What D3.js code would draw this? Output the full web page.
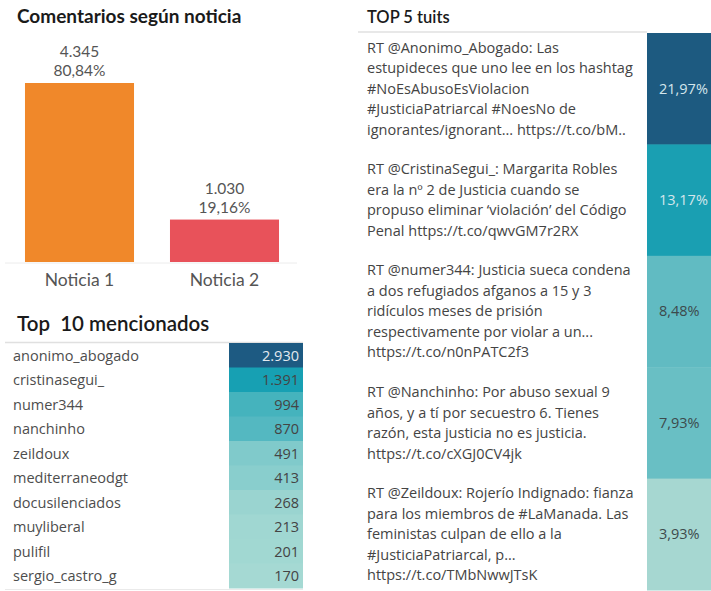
<!DOCTYPE html>
<html>
<head>
<meta charset="utf-8">
<script src="https://cdn.jsdelivr.net/npm/d3@7"></script>
<style>
  body { margin: 0; background: #fff; }
  text { font-family: "Open Sans", sans-serif; }
  .title { font-family: Lato, sans-serif; fill: #1a1a1a; }
</style>
</head>
<body>
<svg id="svg"></svg>
<script>
const noticias = ['Noticia 1', 'Noticia 2'];
const comentarios = [4345, 1030];

const mencionados = ['anonimo_abogado', 'cristinasegui_', 'numer344', 'nanchinho', 'zeildoux',
  'mediterraneodgt', 'docusilenciados', 'muyliberal', 'pulifil', 'sergio_castro_g'];
const menciones = [2930, 1391, 994, 870, 491, 413, 268, 213, 201, 170];

const tuits = [
  ['RT @Anonimo_Abogado: Las', 'estupideces que uno lee en los hashtag', '#NoEsAbusoEsViolacion',
    '#JusticiaPatriarcal #NoesNo de', 'ignorantes/ignorant... https://t.co/bM..'],
  ['RT @CristinaSegui_: Margarita Robles', 'era la nº 2 de Justicia cuando se',
    'propuso eliminar ‘violación’ del Código', 'Penal https://t.co/qwvGM7r2RX'],
  ['RT @numer344: Justicia sueca condena', 'a dos refugiados afganos a 15 y 3',
    'ridículos meses de prisión', 'respectivamente por violar a un...', 'https://t.co/n0nPATC2f3'],
  ['RT @Nanchinho: Por abuso sexual 9', 'años, y a tí por secuestro 6. Tienes',
    'razón, esta justicia no es justicia.', 'https://t.co/cXGJ0CV4jk'],
  ['RT @Zeildoux: Rojerío Indignado: fianza', 'para los miembros de #LaManada. Las',
    'feministas culpan de ello a la', '#JusticiaPatriarcal, p...', 'https://t.co/TMbNwwJTsK']
];
const tuitsPct = [21.97, 13.17, 8.48, 7.93, 3.93];

const width = 711;
const height = 591;

const es = d3.formatLocale({ decimal: ',', thousands: '.', grouping: [3], currency: ['', '€'] });
const fmtNum = es.format(',d');
const fmtPct = es.format('.2%');

const svg = d3.select('#svg').attr('width', width).attr('height', height);

// ---- Comentarios según noticia
svg.append('text').attr('class', 'title')
  .attr('x', 17).attr('y', 23)
  .style('font-size', '19px').style('font-weight', 700)
  .text('Comentarios según noticia');

const x = d3.scaleBand().domain(noticias).range([7, 297]).paddingInner(0.248).paddingOuter(0.124);
const y = d3.scaleLinear().domain([0, d3.max(comentarios)]).range([262, 83]);
const total = d3.sum(comentarios);
const barColors = ['#f0882a', '#e8525a'];

svg.append('line')
  .attr('x1', 5).attr('x2', 297).attr('y1', 263).attr('y2', 263)
  .attr('stroke', '#ececec');

const bars = svg.append('g').selectAll('g')
  .data(comentarios)
  .join('g');

bars.append('rect')
  .attr('x', (d, i) => x(noticias[i]))
  .attr('width', x.bandwidth())
  .attr('y', d => y(d))
  .attr('height', d => y(0) - y(d))
  .attr('fill', (d, i) => barColors[i]);

bars.append('text')
  .attr('x', (d, i) => x(noticias[i]) + x.bandwidth() / 2)
  .attr('y', d => y(d) - 26)
  .attr('text-anchor', 'middle')
  .style('font-family', 'Lato, sans-serif')
  .style('font-size', '15.5px').attr('fill', '#555')
  .text(d => fmtNum(d));

bars.append('text')
  .attr('x', (d, i) => x(noticias[i]) + x.bandwidth() / 2)
  .attr('y', d => y(d) - 7)
  .attr('text-anchor', 'middle')
  .style('font-family', 'Lato, sans-serif')
  .style('font-size', '15.5px').attr('fill', '#555')
  .text(d => fmtPct(d / total));

svg.append('g').selectAll('text')
  .data(noticias)
  .join('text')
  .attr('x', d => x(d) + x.bandwidth() / 2)
  .attr('y', 286)
  .attr('text-anchor', 'middle')
  .style('font-family', 'Lato, sans-serif')
  .style('font-size', '17.5px').attr('fill', '#555')
  .text(d => d);

// ---- Top 10 mencionados
svg.append('text').attr('class', 'title')
  .attr('x', 17).attr('y', 331)
  .attr('xml:space', 'preserve')
  .style('white-space', 'pre')
  .style('font-size', '20.5px').style('font-weight', 600)
  .text('Top  10 mencionados');

const rowY = d3.scaleBand().domain(mencionados).range([343, 588]);
const mColor = d3.scaleLinear()
  .domain([d3.min(menciones), 1391, d3.max(menciones)])
  .range(['#a5d9d3', '#17a0b3', '#1d5a82']);

svg.append('line')
  .attr('x1', 5).attr('x2', 303).attr('y1', 342.5).attr('y2', 342.5)
  .attr('stroke', '#e0e0e0').attr('stroke-width', 1.5);
svg.append('line')
  .attr('x1', 5).attr('x2', 303).attr('y1', 589.5).attr('y2', 589.5)
  .attr('stroke', '#eaeaea');

const mRows = svg.append('g').selectAll('g')
  .data(mencionados)
  .join('g')
  .attr('transform', d => `translate(0,${rowY(d)})`);

mRows.append('rect')
  .attr('x', 229).attr('width', 74)
  .attr('height', rowY.bandwidth() + 0.5)
  .attr('fill', (d, i) => mColor(menciones[i]));

mRows.append('text')
  .attr('x', 13).attr('y', rowY.bandwidth() / 2 + 5.5)
  .style('font-size', '14.5px').attr('fill', '#4d4d4d')
  .text(d => d);

mRows.append('text')
  .attr('x', 299).attr('y', rowY.bandwidth() / 2 + 5.5)
  .attr('text-anchor', 'end')
  .style('font-size', '14.5px')
  .attr('fill', (d, i) => i === 0 ? '#e4e9ef' : '#444')
  .text((d, i) => fmtNum(menciones[i]));

// ---- TOP 5 tuits
svg.append('text').attr('class', 'title')
  .attr('x', 367).attr('y', 23)
  .style('font-size', '16.5px').style('font-weight', 600)
  .text('TOP 5 tuits');

const tY = d3.scaleBand().domain(d3.range(tuits.length)).range([33, 590]);
const tColor = d3.scaleLinear()
  .domain([d3.min(tuitsPct), 13.17, d3.max(tuitsPct)])
  .range(['#a6d7d1', '#1a9fb2', '#1d5a80']);
const lineH = 20.5;

svg.append('line')
  .attr('x1', 358).attr('x2', 647).attr('y1', 32).attr('y2', 32)
  .attr('stroke', '#e0e0e0').attr('stroke-width', 1.5);

const tRows = svg.append('g').selectAll('g')
  .data(tuits)
  .join('g')
  .attr('transform', (d, i) => `translate(0,${tY(i)})`);

tRows.append('rect')
  .attr('x', 647).attr('width', width - 647)
  .attr('height', tY.bandwidth() + 0.5)
  .attr('fill', (d, i) => tColor(tuitsPct[i]));

tRows.append('text')
  .style('font-size', '14.5px').attr('fill', '#444')
  .selectAll('tspan')
  .data(d => d.map((t, j) => ({ t, j, n: d.length })))
  .join('tspan')
  .attr('x', 367)
  .attr('y', d => tY.bandwidth() / 2 + (d.j - (d.n - 1) / 2) * lineH + 5)
  .text(d => d.t);

tRows.append('text')
  .attr('x', 659).attr('y', tY.bandwidth() / 2 + 5)
  .style('font-size', '14.5px')
  .attr('fill', (d, i) => i < 2 ? '#d4e6ec' : '#3d4a4c')
  .text((d, i) => es.format('.2f')(tuitsPct[i]) + '%');
</script>
</body>
</html>
